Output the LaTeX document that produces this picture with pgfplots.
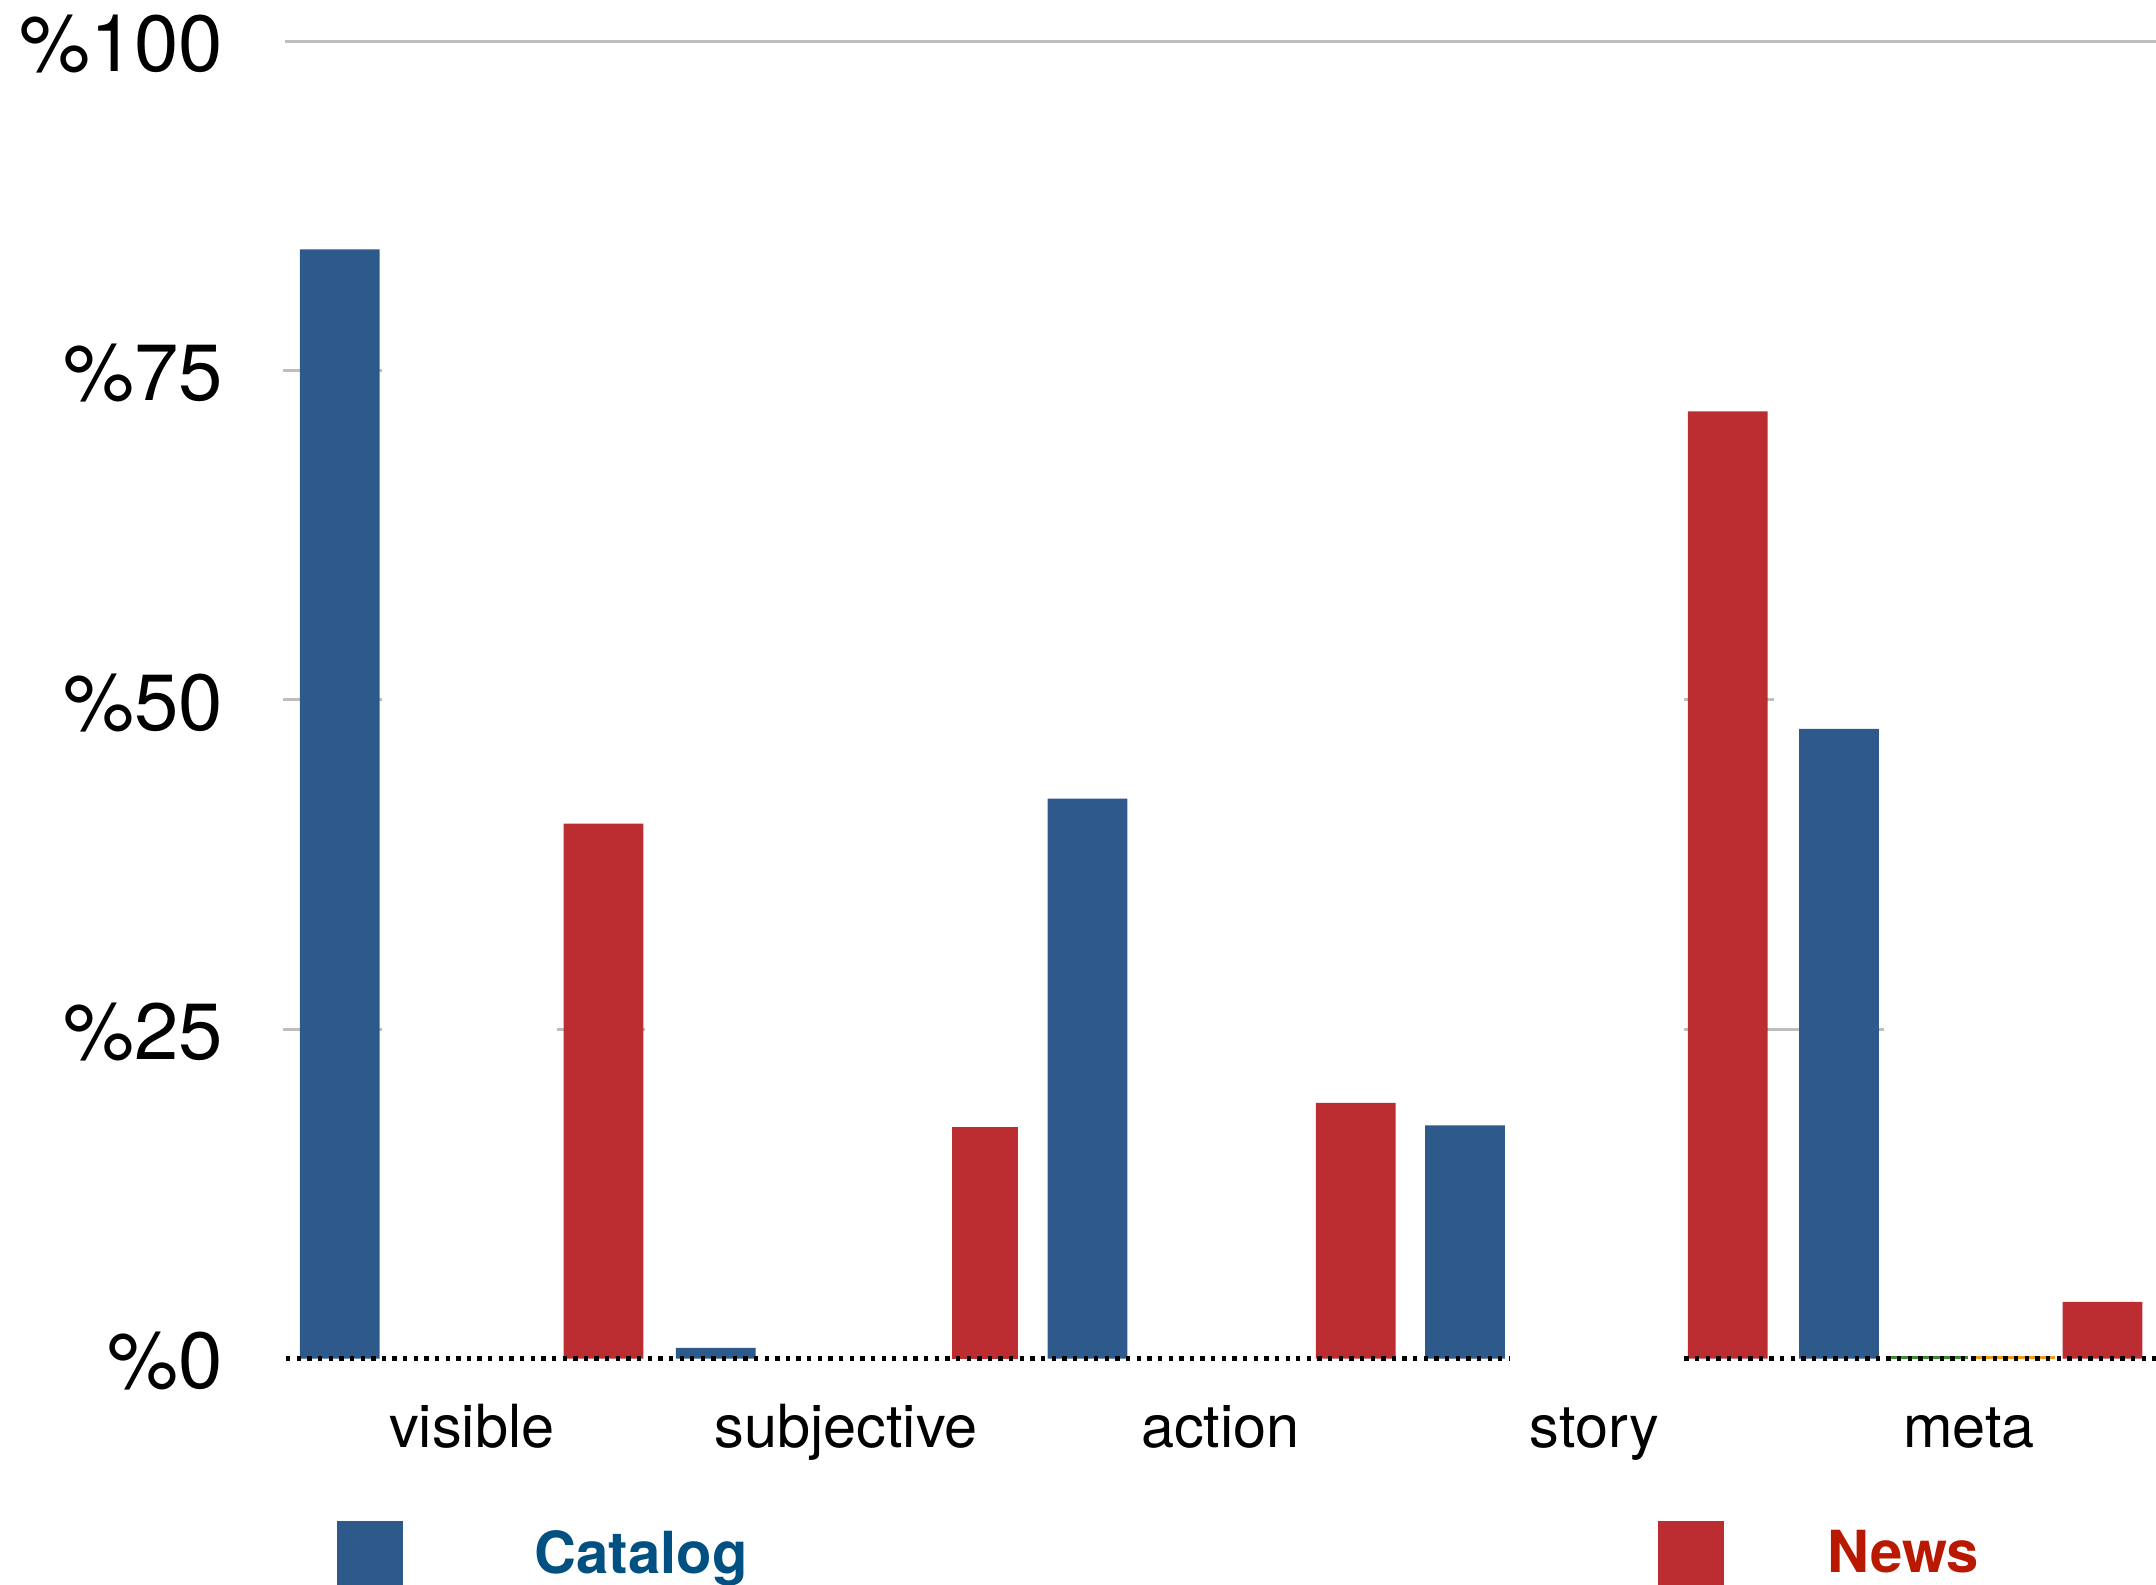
\documentclass[border=0pt]{standalone}
\usepackage{pgfplots}
\pgfplotsset{compat=1.18}
\usepackage{fontspec}
\setmainfont{TeX Gyre Heros}

\definecolor{catblue}{RGB}{46,89,139}
\definecolor{newsred}{RGB}{188,45,50}
\definecolor{cattext}{RGB}{0,80,130}
\definecolor{newstext}{RGB}{185,25,0}
\definecolor{gridgray}{RGB}{190,190,190}
\definecolor{tinygreen}{RGB}{60,140,50}
\definecolor{tinyorange}{RGB}{240,155,30}

\begin{document}
\begin{tikzpicture}
\useasboundingbox (0,0) rectangle (15.68,11.52);
\begin{scope}
\clip (0,0) rectangle (15.68,11.52);
\begin{axis}[
  at={(2.07cm,1.64cm)}, anchor=south west,
  scale only axis, width=13.61cm, height=9.58cm,
  xmin=-0.5, xmax=4.5, ymin=0, ymax=100,
  axis line style={draw=none},
  major tick length=0pt,
  xtick={0,1,2,3,4},
  xticklabels={visible,subjective,action,story,meta},
  ytick={0,25,50,75,100},
  yticklabels={\%0,\%25,\%50,\%75,\%100},
  xticklabel style={font=\fontsize{12.3}{14}\selectfont, anchor=base, yshift=-0.65cm, inner sep=0pt},
  yticklabel style={font=\fontsize{16.5}{18}\selectfont, anchor=east, inner sep=0pt, xshift=-0.44cm, yshift=-0.02cm},
  clip=false,
  legend columns=2,
  legend cell align=left,
  legend style={
    at={(axis description cs:0.0279,-0.1232)}, anchor=north west,
    draw=none, fill=none, inner sep=0pt, outer sep=0pt,
    nodes={inner sep=0pt},
    column sep=0pt,
    /tikz/every even column/.append style={column sep=6.62cm},
    font=\fontsize{12}{14}\selectfont\bfseries,
  },
]

% partial gridline segments and the top line
\draw[gridgray, line width=0.6pt] (axis cs:-0.5,100) -- (axis cs:4.5,100);
\draw[gridgray, line width=0.6pt] (axis cs:-0.504,75) -- (axis cs:-0.24,75);
\draw[gridgray, line width=0.6pt] (axis cs:-0.504,50) -- (axis cs:-0.24,50);
\draw[gridgray, line width=0.6pt] (axis cs:3.24,50) -- (axis cs:3.479,50);
\draw[gridgray, line width=0.6pt] (axis cs:-0.504,25) -- (axis cs:-0.24,25);
\draw[gridgray, line width=0.6pt] (axis cs:0.229,25) -- (axis cs:0.464,25);
\draw[gridgray, line width=0.6pt] (axis cs:3.24,25) -- (axis cs:3.773,25);

% Catalog
\addplot[ybar, bar width=0.58cm, bar shift=0pt, fill=catblue, draw=none,
  legend image code/.code={\fill[catblue] (0cm,-0.5cm) rectangle (0.48cm,0.25cm); \path (1.44cm,0);}]
  coordinates {(-0.353,84.2) (0.652,0.8) (1.645,42.5) (2.654,17.7) (3.653,47.8)};
\addlegendentry{\textcolor{cattext}{Catalog}}

% News
\addplot[ybar, bar width=0.58cm, bar shift=0pt, fill=newsred, draw=none,
  legend image code/.code={\fill[newsred] (0cm,-0.5cm) rectangle (0.48cm,0.25cm); \path (1.23cm,0);}]
  coordinates {(0.352,40.6) (2.362,19.4) (3.356,71.9) (4.357,4.3)};
\addlegendentry{\textcolor{newstext}{News}}

\addplot[ybar, bar width=0.48cm, bar shift=0pt, fill=newsred, draw=none, forget plot]
  coordinates {(1.370,17.6)};

% two near-empty series in the last group
\addplot[ybar, bar width=0.58cm, bar shift=0pt, fill=tinygreen, draw=none, forget plot]
  coordinates {(3.890,0.2)};
\addplot[ybar, bar width=0.58cm, bar shift=0pt, fill=tinyorange, draw=none, forget plot]
  coordinates {(4.123,0.2)};

% dotted baseline
\draw[black, line width=0.9pt, dash pattern=on 0.9pt off 1.3pt] (axis cs:-0.496,0) -- (axis cs:2.773,0);
\draw[black, line width=0.9pt, dash pattern=on 0.9pt off 1.3pt] (axis cs:3.24,0) -- (axis cs:4.5,0);
\end{axis}
\end{scope}
\end{tikzpicture}
\end{document}
